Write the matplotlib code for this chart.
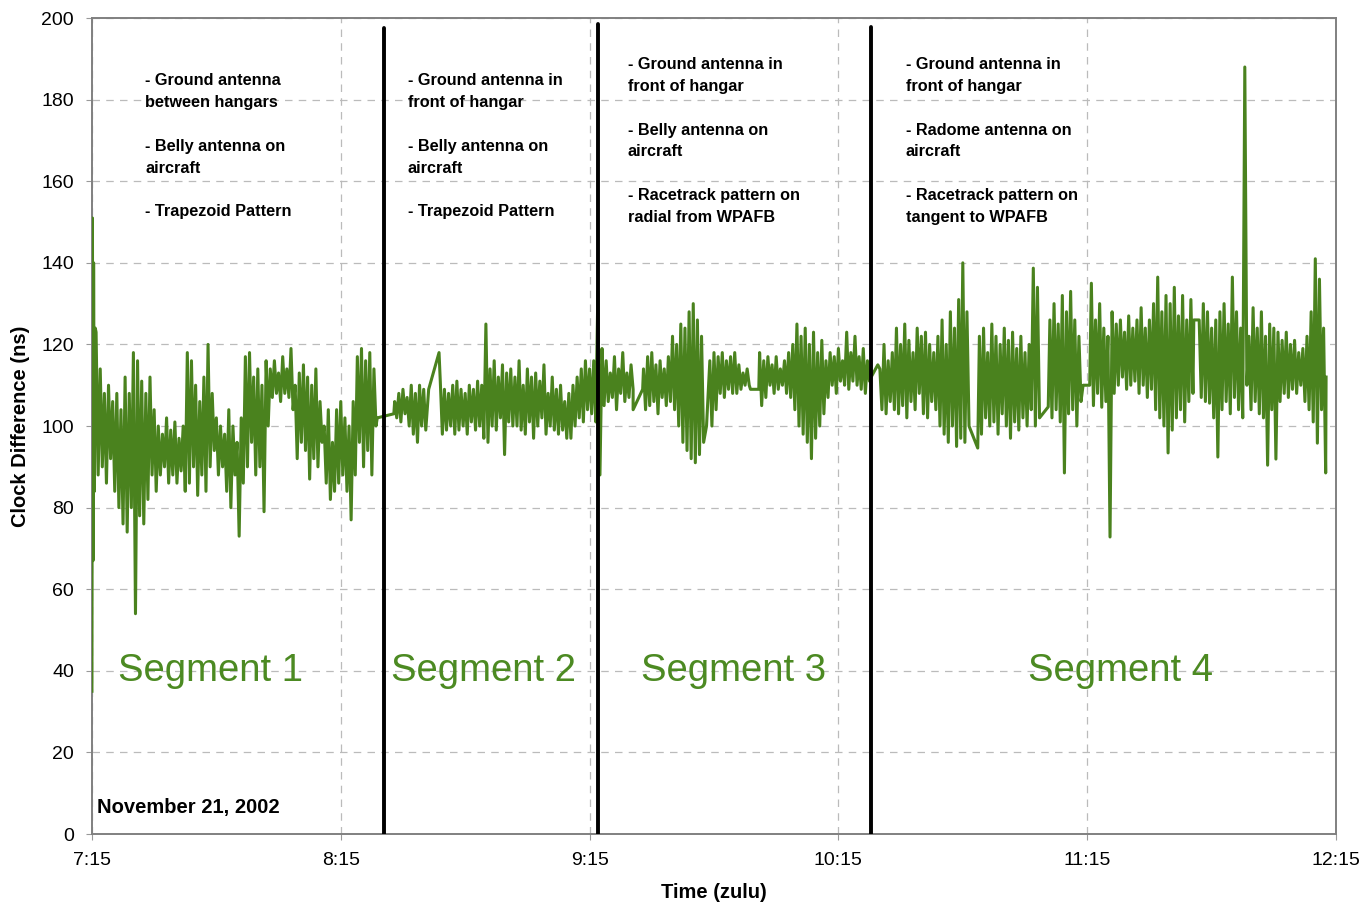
import numpy as np
import matplotlib.pyplot as plt

plt.rcParams['font.family'] = ['Liberation Sans', 'DejaVu Sans']

# time axis: minutes after 7:15 zulu
tick_minutes = [0, 60, 120, 180, 240, 300]
tick_labels = ['7:15', '8:15', '9:15', '10:15', '11:15', '12:15']

# boundaries between flight segments (minutes after 7:15) and their top value
segment_breaks = [70.4, 122.0, 187.8]
segment_break_tops = [197.5, 198.5, 197.8]

# clock difference (ns): per-minute high / low readings of each data run
run_starts = [1, 73, 84, 122, 133, 149, 161, 190, 214, 231, 241, 267]

run_hi = [
    [123, 114, 108, 110, 106, 108, 104, 112, 108, 118, 116, 111, 108, 112, 104, 100, 98, 102, 99, 101,
     97, 100, 118, 116, 110, 106, 112, 120, 108, 102, 100, 98, 104, 100, 96, 102, 117, 118, 112, 114,
     110, 116, 114, 116, 113, 117, 114, 119, 110, 113, 115, 112, 110, 114, 106, 100, 104, 96, 104, 106,
     102, 100, 106, 117, 119, 116, 118, 114],
    [106, 108, 109, 107, 110, 108, 110, 109],
    [111, 109, 108, 110, 111, 109, 108, 110, 109, 111, 110, 125, 114, 116, 112, 115, 113, 114, 112, 116,
     110, 114, 112, 113, 111, 115, 108, 112, 109, 110, 106, 108, 110, 112, 114, 116, 114, 116],
    [133, 119, 116, 113, 117, 114, 118, 113, 115],
    [114, 117, 118, 115, 116, 114, 117, 122, 120, 125, 124, 128, 130, 126, 122],
    [116, 118, 117, 118, 116, 117, 118, 115, 113, 114],
    [118, 116, 117, 115, 117, 114, 116, 118, 120, 125, 122, 124, 120, 123, 118, 121, 116, 118, 117, 119,
     116, 123, 118, 122, 117, 119, 116],
    [114, 120, 116, 118, 124, 120, 125, 121, 118, 124, 122, 123, 120, 118, 122, 126, 120, 128, 124, 131,
     140, 128],
    [122, 124, 118, 125, 122, 120, 124, 121, 123, 119, 122, 118, 120, 138.7, 134],
    [126, 130, 125, 132, 128, 133, 126, 122],
    [135, 126, 130, 124, 122, 128, 125, 126, 123, 127, 124, 126, 129, 124, 126, 130, 136.5, 128, 132, 130,
     134, 127, 132, 126, 131],
    [126, 130, 128, 124, 126, 128, 130, 125, 136.5, 128, 124, 188, 122, 129, 124, 128, 122, 125, 124, 123,
     121, 123, 120, 121, 118, 119, 122, 128, 141, 136, 124],
]

run_lo = [
    [88, 90, 86, 92, 84, 80, 76, 74, 80, 54, 78, 76, 82, 88, 84, 88, 90, 86, 88, 86,
     89, 84, 86, 90, 83, 88, 84, 90, 94, 88, 90, 84, 80, 88, 73, 86, 90, 96, 88, 90,
     79, 100, 107, 108, 106, 108, 107, 104, 92, 96, 94, 87, 92, 90, 96, 86, 82, 84, 86, 88,
     84, 77, 88, 96, 90, 94, 88, 100],
    [102, 101, 103, 100, 98, 96, 100, 99],
    [98, 99, 100, 98, 99, 100, 98, 101, 99, 100, 97, 96, 100, 99, 102, 93, 101, 100, 100, 99,
     98, 101, 97, 100, 102, 98, 100, 99, 98, 99, 97, 97, 100, 102, 101, 104, 103, 101],
    [88, 105, 106, 107, 104, 108, 106, 107, 104],
    [104, 105, 106, 103, 107, 105, 106, 104, 100, 96, 94, 92, 91, 93, 96],
    [100, 104, 108, 107, 109, 108, 108, 109, 110, 110],
    [105, 107, 110, 108, 109, 110, 108, 107, 104, 100, 98, 96, 92, 97, 100, 103, 107, 110, 108, 111,
     110, 109, 111, 110, 109, 108, 111],
    [104, 103, 106, 104, 103, 105, 102, 106, 104, 108, 103, 102, 106, 104, 100, 98, 96, 100, 95, 97,
     96, 100],
    [98, 102, 100, 101, 98, 103, 100, 97, 101, 99, 102, 100, 104, 100, 102],
    [102, 104, 101, 88.5, 103, 104, 100, 106],
    [105, 108, 104.6, 106, 72.8, 108, 110, 112, 109, 110, 111, 108, 110, 107, 109, 104, 102, 100, 93.4, 99,
     102, 104, 101, 106, 108],
    [107, 106, 105.6, 102, 92.4, 104, 106, 103, 107, 104, 102, 110, 104, 106, 103, 102, 90.4, 104, 91.9, 106,
     108, 107, 109, 108, 110, 106, 104, 101, 95.8, 104, 88.5],
]

# single readings at the start and around gaps in the record
extra_t = [0.0, 0.12, 0.25, 0.4, 0.6, 0.8, 68.8, 72.8, 81.2, 83.7, 130.5, 132.8, 148.2,
           158.8, 160.8, 187.9, 189.5, 213.6, 230.6, 239.0, 240.6, 265.7, 266.8, 297.6]
extra_v = [35, 151, 67, 140, 84, 124, 102, 103, 109, 118, 109, 109, 100,
           109, 109, 112, 115, 94.6, 104.7, 110, 110, 126, 126, 112]

segment_names = ['Segment 1', 'Segment 2', 'Segment 3', 'Segment 4']
segment_name_t = [28.5, 94.3, 154.8, 248.1]

notes_short = [
    ['- Ground antenna', 'between hangars', '- Belly antenna on', 'aircraft', '- Trapezoid Pattern'],
    ['- Ground antenna in', 'front of hangar', '- Belly antenna on', 'aircraft', '- Trapezoid Pattern'],
]
notes_long = [
    ['- Ground antenna in', 'front of hangar', '- Belly antenna on', 'aircraft',
     '- Racetrack pattern on', 'radial from WPAFB'],
    ['- Ground antenna in', 'front of hangar', '- Radome antenna on', 'aircraft',
     '- Racetrack pattern on', 'tangent to WPAFB'],
]

GREEN = '#4a821e'


def zigzag(start, hi, lo):
    t, v = [], []
    for i, (h, l) in enumerate(zip(hi, lo)):
        t += [start + i, start + i + 0.5]
        v += [h, l]
    return t, v


all_t, all_v = list(extra_t), list(extra_v)
for s, hi, lo in zip(run_starts, run_hi, run_lo):
    t, v = zigzag(s, hi, lo)
    all_t += t
    all_v += v
order = np.argsort(all_t)
all_t = np.array(all_t)[order]
all_v = np.array(all_v)[order]

fig = plt.figure(figsize=(13.64, 9.11), dpi=100)
ax = fig.add_axes([0.0674, 0.0845, 0.9121, 0.8957])

ax.plot(all_t, all_v, color=GREEN, lw=2.2, zorder=3)

for x, top in zip(segment_breaks, segment_break_tops):
    ax.plot([x, x], [0, top], color='black', lw=2.8, zorder=4, solid_capstyle='round')

ax.set_xlim(0, 300)
ax.set_ylim(0, 200)
ax.set_xticks(tick_minutes)
ax.set_xticklabels(tick_labels)
ax.set_yticks(np.arange(0, 201, 20))
ax.tick_params(labelsize=14, length=4, color='#999999', pad=9)
ax.grid(True, linestyle=(0, (6, 5)), color='#bbbbbb', lw=0.9)
for sp in ax.spines.values():
    sp.set_color('#808080')
    sp.set_linewidth(1.4)

ax.set_xlabel('Time (zulu)', fontsize=14.5, fontweight='bold', labelpad=10)
ax.set_ylabel('Clock Difference (ns)', fontsize=14.5, fontweight='bold', labelpad=8)

for name, t in zip(segment_names, segment_name_t):
    ax.text(t, 40, name, color='#4c8a22', fontsize=27.5, ha='center', va='center', zorder=5)

short_y = [184.6, 179.2, 168.4, 163.2, 152.5]
long_y = [188.5, 183.1, 172.5, 167.2, 156.4, 151.0]
for t0, lines in zip([12.8, 76.2], notes_short):
    for y, line in zip(short_y, lines):
        ax.text(t0, y, line, fontsize=11.7, fontweight='bold', va='center', ha='left')
for t0, lines in zip([129.2, 196.3], notes_long):
    for y, line in zip(long_y, lines):
        ax.text(t0, y, line, fontsize=11.7, fontweight='bold', va='center', ha='left')

ax.text(1.2, 6.4, 'November 21, 2002', fontsize=14.5, fontweight='bold', va='center', ha='left')

fig.savefig('out.png', dpi=100)
